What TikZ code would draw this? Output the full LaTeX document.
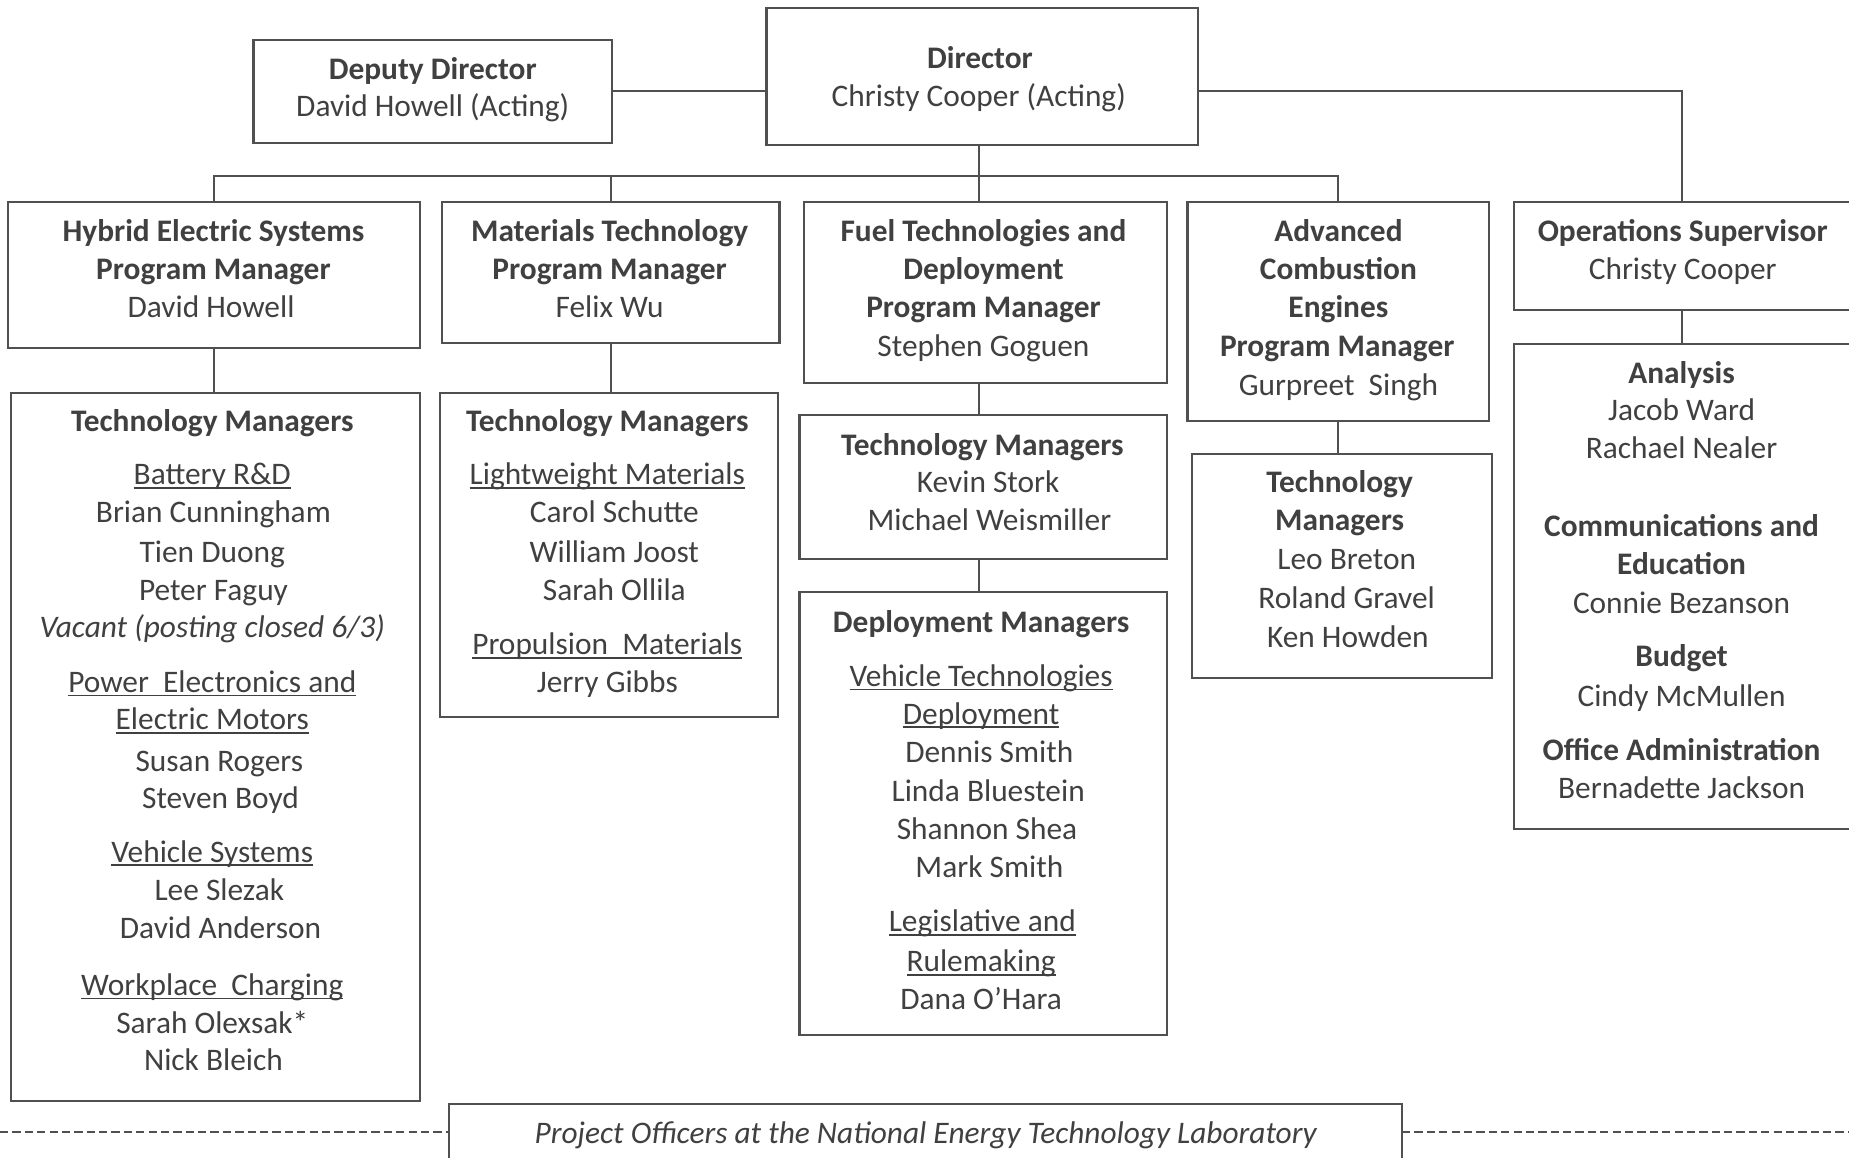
\documentclass[tikz,border=0pt]{standalone}
\usepackage{fontspec}
\setmainfont{Carlito}
\usetikzlibrary{fit}
\definecolor{tc}{RGB}{64,64,64}
\definecolor{lc}{RGB}{80,80,80}
\newcommand\ulx[1]{\leavevmode\setbox0\hbox{#1}\rlap{\rule[-0.13em]{\wd0}{0.055em}}\box0}
\newcommand\mkline[4]{\node[tl] (#1) at (#2,#3) {#4};}
\tikzset{
  box/.style={draw=lc, line width=0.9pt, inner sep=0pt, outer sep=0pt},
  obox/.style={inner sep=0pt, outer sep=0pt},
  tl/.style={anchor=base, yshift=-4.5pt, inner sep=0pt, text=tc, font=\fontsize{13.3pt}{16pt}\selectfont},
  conn/.style={draw=lc, line width=0.9pt},
}
\begin{document}
\begin{tikzpicture}[x=0.5pt,y=-0.5pt]
\useasboundingbox (0,0) rectangle (1568,982);
% boxes
\node[box, fit={(215,34) (519,121)}] (dep) {};
\node[box, fit={(650,7) (1016,123)}] (dir) {};
\node[box, fit={(7,171) (356,295)}] (hes) {};
\node[box, fit={(375,171) (661,291)}] (mt) {};
\node[box, fit={(682,171) (990,325)}] (ft) {};
\node[box, fit={(1007,171) (1263,357)}] (ace) {};
\node[obox, fit={(1284,171) (1568,263)}] (ops) {};
\node[box, fit={(9,333) (356,934)}] (hestm) {};
\node[box, fit={(373,333) (660,608)}] (mttm) {};
\node[box, fit={(678,352) (990,474)}] (ftm) {};
\node[box, fit={(678,502) (990,878)}] (dm) {};
\node[box, fit={(1011,385) (1265,575)}] (acetm) {};
\node[obox, fit={(1284,292) (1568,703)}] (opsub) {};
\node[obox, fit={(381,936) (1189,982)}] (proj) {};
\draw[conn] (ops.north east) -- (ops.north west) -- (ops.south west) -- (ops.south east);
\draw[conn] (opsub.north east) -- (opsub.north west) -- (opsub.south west) -- (opsub.south east);
\draw[conn] (proj.south west) -- (proj.north west) -- (proj.north east) -- (proj.south east);
% connectors
\coordinate (bar) at (830,149);
\coordinate (dl) at (0,960);
\coordinate (dr) at (1568,960);
\draw[conn] (dep.east) -- (dep.east -| dir.west);
\draw[conn] (dir.east |- dep.east) -| (ops.north);
\draw[conn] (dir.south -| bar) -- (bar);
\draw[conn] (hes.north) |- (ace.north |- bar) -- (ace.north);
\draw[conn] (mt.north) -- (mt.north |- bar);
\draw[conn] (bar) -- (bar |- ft.north);
\draw[conn] (hes.south) -- (hes.south |- hestm.north);
\draw[conn] (mt.south) -- (mt.south |- mttm.north);
\draw[conn] (ft.south -| bar) -- (bar |- ftm.north);
\draw[conn] (ftm.south -| bar) -- (bar |- dm.north);
\draw[conn] (ace.south) -- (ace.south |- acetm.north);
\draw[conn] (ops.south) -- (ops.south |- opsub.north);
\draw[conn, dash pattern=on 3.5pt off 1.75pt] (dl) -- (dl -| proj.west);
\draw[conn, dash pattern=on 3.5pt off 1.75pt] (proj.east |- dr) -- (dr);
% texts: deputy / director
\mkline{dep1}{367}{58}{\bfseries Deputy Director}
\mkline{dep2}{367}{90}{David Howell (Acting)}
\mkline{dir1}{831}{49}{\bfseries Director}
\mkline{dir2}{830}{81}{Christy Cooper (Acting)}
% row 1
\mkline{hes1}{181}{196}{\bfseries Hybrid Electric Systems}
\mkline{hes2}{181}{228}{\bfseries Program Manager}
\mkline{hes3}{179}{260}{David Howell}
\mkline{mt1}{517}{196}{\bfseries Materials Technology}
\mkline{mt2}{517}{228}{\bfseries Program Manager}
\mkline{mt3}{517}{260}{Felix Wu}
\mkline{ft1}{834}{196}{\bfseries Fuel Technologies and}
\mkline{ft2}{834}{228}{\bfseries Deployment}
\mkline{ft3}{834}{260}{\bfseries Program Manager}
\mkline{ft4}{834}{293}{Stephen Goguen}
\mkline{ace1}{1135}{196}{\bfseries Advanced}
\mkline{ace2}{1135}{228}{\bfseries Combustion}
\mkline{ace3}{1135}{260}{\bfseries Engines}
\mkline{ace4}{1134}{293}{\bfseries Program Manager}
\mkline{ace5}{1135}{326}{Gurpreet\ \ Singh}
\mkline{ops1}{1427}{196}{\bfseries Operations Supervisor}
\mkline{ops2}{1427}{228}{Christy Cooper}
% hybrid technology managers
\mkline{h1}{180}{357}{\bfseries Technology Managers}
\mkline{h2}{180}{402}{\ulx{Battery R\&D}}
\mkline{h3}{181}{434}{Brian Cunningham}
\mkline{h4}{180}{468}{Tien Duong}
\mkline{h5}{181}{500}{Peter Faguy}
\mkline{h6}{180}{532}{\itshape Vacant (posting closed 6/3)}
\mkline{h7}{180}{578}{\ulx{Power\ \ Electronics and}}
\mkline{h8}{180}{610}{\ulx{Electric Motors}}
\mkline{h9}{186}{645}{Susan Rogers}
\mkline{h10}{187}{677}{Steven Boyd}
\mkline{h11}{180}{722}{\ulx{Vehicle Systems}}
\mkline{h12}{186}{755}{Lee Slezak}
\mkline{h13}{187}{787}{David Anderson}
\mkline{h14}{180}{835}{\ulx{Workplace\ \ Charging}}
\mkline{h15}{180}{867}{Sarah Olexsak*}
\mkline{h16}{181}{899}{Nick Bleich}
% materials technology managers
\mkline{m1}{515}{357}{\bfseries Technology Managers}
\mkline{m2}{515}{402}{\ulx{Lightweight Materials}}
\mkline{m3}{521}{434}{Carol Schutte}
\mkline{m4}{521}{468}{William Joost}
\mkline{m5}{521}{500}{Sarah Ollila}
\mkline{m6}{515}{546}{\ulx{Propulsion\ \ Materials}}
\mkline{m7}{515}{578}{Jerry Gibbs}
% fuel technology managers
\mkline{f1}{833}{377}{\bfseries Technology Managers}
\mkline{f2}{838}{409}{Kevin Stork}
\mkline{f3}{839}{441}{Michael Weismiller}
% deployment managers
\mkline{d1}{832}{527}{\bfseries Deployment Managers}
\mkline{d2}{832}{573}{\ulx{Vehicle Technologies}}
\mkline{d3}{832}{605}{\ulx{Deployment}}
\mkline{d4}{839}{638}{Dennis Smith}
\mkline{d5}{838}{671}{Linda Bluestein}
\mkline{d6}{837}{703}{Shannon Shea}
\mkline{d7}{839}{735}{Mark Smith}
\mkline{d8}{833}{781}{\ulx{Legislative and}}
\mkline{d9}{832}{815}{\ulx{Rulemaking}}
\mkline{d10}{832}{847}{Dana O’Hara}
% advanced combustion technology managers
\mkline{a1}{1136}{409}{\bfseries Technology}
\mkline{a2}{1136}{441}{\bfseries Managers}
\mkline{a3}{1142}{474}{Leo Breton}
\mkline{a4}{1142}{507}{Roland Gravel}
\mkline{a5}{1143}{540}{Ken Howden}
% operations sub
\mkline{o1}{1426}{316}{\bfseries Analysis}
\mkline{o2}{1426}{348}{Jacob Ward}
\mkline{o3}{1426}{380}{Rachael Nealer}
\mkline{o4}{1426}{446}{\bfseries Communications and}
\mkline{o5}{1426}{478}{\bfseries Education}
\mkline{o6}{1426}{511}{Connie Bezanson}
\mkline{o7}{1426}{556}{\bfseries Budget}
\mkline{o8}{1426}{590}{Cindy McMullen}
\mkline{o9}{1426}{636}{\bfseries Office Administration}
\mkline{o10}{1426}{668}{Bernadette Jackson}
% project officers
\mkline{p1}{785}{961}{\itshape Project Officers at the National Energy Technology Laboratory}
\end{tikzpicture}
\end{document}
